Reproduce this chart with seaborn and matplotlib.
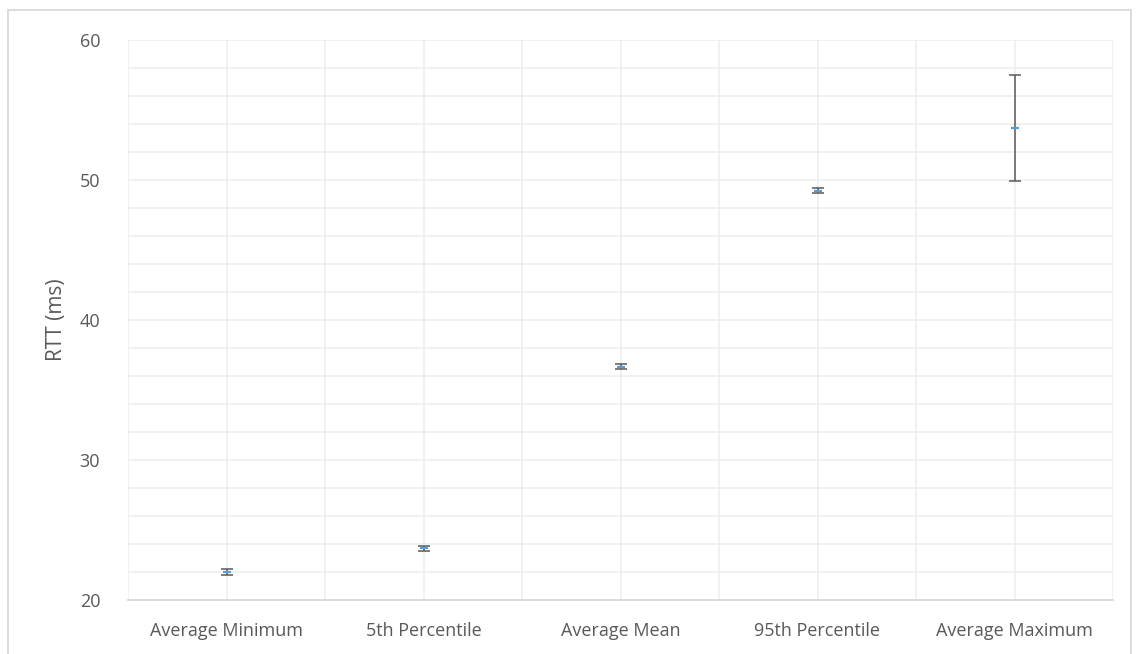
import numpy as np
import pandas as pd
import seaborn as sns
import matplotlib.pyplot as plt
from matplotlib.ticker import MultipleLocator, FixedLocator
from matplotlib.patches import Rectangle

# Data
categories = ["Average Minimum", "5th Percentile", "Average Mean",
              "95th Percentile", "Average Maximum"]
rtt = [22.0, 23.7, 36.65, 49.25, 53.7]
err = [0.23, 0.18, 0.18, 0.2, 3.8]

df = pd.DataFrame({"stat": categories, "rtt": rtt, "err": err})

sns.set_theme(style="white")
plt.rcParams['font.family'] = ['Open Sans', 'DejaVu Sans']
txt = "#595959"

fig = plt.figure(figsize=[11.36, 6.54], dpi=100)
ax = fig.add_axes([128/1136, 1 - 600/654, (1113-128)/1136, 560/654])

# chart frame
fig.patches.append(Rectangle((8/1136, -0.1), (1131-8)/1136, 1.1 - 10/654,
                             transform=fig.transFigure, fill=False,
                             edgecolor="#D9D9D9", lw=1.3, zorder=0))

x = np.arange(len(categories))
ax.errorbar(x, df["rtt"], yerr=df["err"], fmt="none", ecolor="#595959",
            elinewidth=1.1, capsize=4.5, capthick=1.1, zorder=3)
sns.scatterplot(data=df, x="stat", y="rtt", marker="_", s=30,
                color="#5B9BD5", linewidth=1.6, ax=ax, zorder=4)

ax.set_xlim(-0.5, 4.5)
ax.set_ylim(20, 60)
ax.yaxis.set_major_locator(MultipleLocator(10))
ax.yaxis.set_minor_locator(MultipleLocator(2))
ax.xaxis.set_minor_locator(FixedLocator(np.arange(-0.5, 5, 1)))
ax.grid(which="both", color="#EDEDED", lw=1.1)
ax.set_axisbelow(True)

for s in ["top", "right", "left"]:
    ax.spines[s].set_visible(False)
ax.spines["bottom"].set_color("#D9D9D9")
ax.spines["bottom"].set_linewidth(1.3)

ax.tick_params(axis="both", which="both", length=0, colors=txt, labelsize=13)
ax.tick_params(axis="y", pad=20)
ax.tick_params(axis="x", pad=16)
ax.set_xlabel("")
ax.set_ylabel("RTT (ms)", fontsize=15, color=txt, labelpad=9)

fig.savefig("out.png", dpi=100)
